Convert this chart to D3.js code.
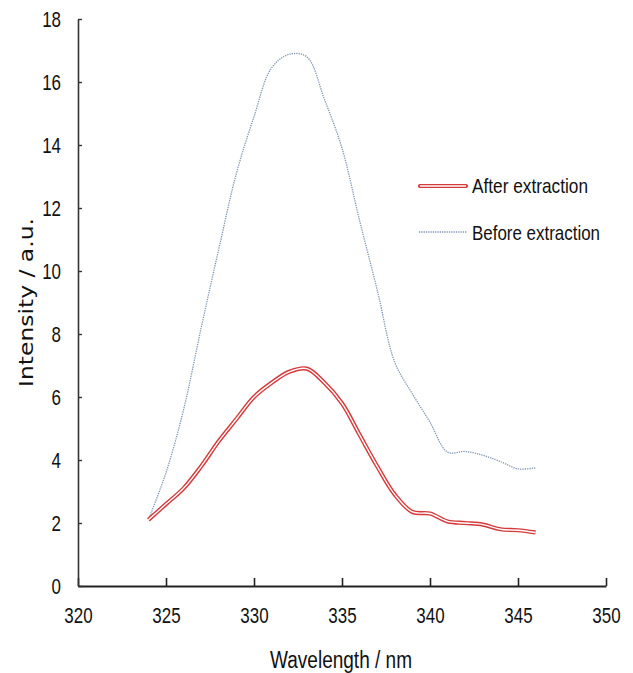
<!DOCTYPE html>
<html lang="en">
<head>
<meta charset="UTF-8">
<title>Intensity vs wavelength</title>
<script src="https://d3js.org/d3.v7.min.js"></script>
<style>
body { margin: 0; background: #fff; }
text { font-family: "Liberation Sans", Arial, sans-serif; fill: #111; }
</style>
</head>
<body>
<svg id="chart" width="633" height="673"></svg>
<script>
// wavelengths (nm)
var wavelengths = [324, 325, 326, 327, 328, 329, 330, 331, 332, 333, 334, 335,
  336, 337, 338, 339, 340, 341, 342, 343, 344, 345, 346]

// intensity after extraction
var afterValues = [2.1, 2.6, 3.1, 3.8, 4.6, 5.3, 6.0, 6.45, 6.8, 6.9, 6.45, 5.8,
  4.8, 3.8, 2.9, 2.35, 2.3, 2.05, 2.0, 1.95, 1.8, 1.77, 1.7]

// intensity before extraction
var beforeValues = [2.1, 3.6, 5.6, 8.2, 10.7, 13.1, 14.9, 16.45, 16.88, 16.8, 15.45, 13.9,
  11.6, 9.4, 7.1, 6.1, 5.2, 4.25, 4.27, 4.15, 3.95, 3.72, 3.75]

var xTicks = [320, 325, 330, 335, 340, 345, 350]
var yTicks = [0, 2, 4, 6, 8, 10, 12, 14, 16, 18]
var seriesNames = ["After extraction", "Before extraction"]

var svg = d3.select("#chart")

var x = d3.scaleLinear().domain([320, 350]).range([78, 606])
var y = d3.scaleLinear().domain([0, 18]).range([586, 19])

// squeeze text horizontally (reference font is a narrow one)
function narrow(sel, sx) {
  sel.each(function() {
    var t = d3.select(this)
    var xx = +t.attr("x") || 0
    t.attr("x", xx / sx).attr("transform", "scale(" + sx + ",1)")
  })
}

// axes
var xAxis = svg.append("g")
  .attr("transform", "translate(0," + y(0) + ")")
  .call(d3.axisBottom(x).tickValues(xTicks).tickSizeInner(-8).tickSizeOuter(0).tickPadding(21))
xAxis.select(".domain").attr("stroke", "#222").attr("stroke-width", 2.2)
xAxis.selectAll(".tick line").attr("stroke", "#222").attr("stroke-width", 1.6)
xAxis.selectAll(".tick text").attr("font-size", 22).attr("font-family", null).attr("fill", "#111")
narrow(xAxis.selectAll(".tick text"), 0.77)

var yAxis = svg.append("g")
  .attr("transform", "translate(" + x(320) + ",0)")
  .call(d3.axisLeft(y).tickValues(yTicks).tickSizeInner(-4).tickSizeOuter(0).tickPadding(17))
yAxis.select(".domain").attr("stroke", "#333").attr("stroke-width", 1.6)
yAxis.selectAll(".tick line").attr("stroke", "#333").attr("stroke-width", 1.4)
yAxis.selectAll(".tick text").attr("font-size", 22).attr("font-family", null).attr("fill", "#111")
narrow(yAxis.selectAll(".tick text"), 0.77)

// axis titles
svg.append("text")
  .attr("x", 270).attr("y", 668)
  .attr("font-size", 23)
  .attr("textLength", 142).attr("lengthAdjust", "spacingAndGlyphs")
  .text("Wavelength / nm")

svg.append("text")
  .attr("transform", "translate(33,387) rotate(-90)")
  .style("font-family", "'DejaVu Sans', sans-serif")
  .attr("font-size", 19.5)
  .attr("textLength", 169).attr("lengthAdjust", "spacingAndGlyphs")
  .text("Intensity / a.u.")

// lines
var line = d3.line()
  .x(function(d) { return x(d[0]) })
  .y(function(d) { return y(d[1]) })
  .curve(d3.curveCatmullRom.alpha(0.5))

var beforeData = d3.zip(wavelengths, beforeValues)
var afterData = d3.zip(wavelengths, afterValues)

svg.append("path")
  .datum(beforeData)
  .attr("d", line)
  .attr("fill", "none")
  .attr("stroke", "#7f97b2")
  .attr("stroke-width", 1.3)
  .attr("stroke-dasharray", "1.3,1")

// double red line: red outside, white core
svg.append("path")
  .datum(afterData)
  .attr("d", line)
  .attr("fill", "none")
  .attr("stroke", "#d63a3a")
  .attr("stroke-width", 4.2)
  .attr("stroke-linejoin", "round")
svg.append("path")
  .datum(afterData)
  .attr("d", line)
  .attr("fill", "none")
  .attr("stroke", "#fff")
  .attr("stroke-width", 1.4)

// legend
var lg = svg.append("g")
lg.append("line").attr("x1", 420).attr("x2", 466).attr("y1", 186).attr("y2", 186)
  .attr("stroke", "#d63a3a").attr("stroke-width", 4.2).attr("stroke-linecap", "round")
lg.append("line").attr("x1", 420).attr("x2", 466).attr("y1", 186).attr("y2", 186)
  .attr("stroke", "#fff").attr("stroke-width", 1.4)
lg.append("line").attr("x1", 419).attr("x2", 467).attr("y1", 232).attr("y2", 232)
  .attr("stroke", "#7f97b2").attr("stroke-width", 1.3).attr("stroke-dasharray", "1.3,1")

lg.append("text").attr("x", 472).attr("y", 193).attr("font-size", 21)
  .attr("textLength", 116).attr("lengthAdjust", "spacingAndGlyphs").text(seriesNames[0])
lg.append("text").attr("x", 472).attr("y", 240).attr("font-size", 21)
  .attr("textLength", 128).attr("lengthAdjust", "spacingAndGlyphs").text(seriesNames[1])
</script>
</body>
</html>
